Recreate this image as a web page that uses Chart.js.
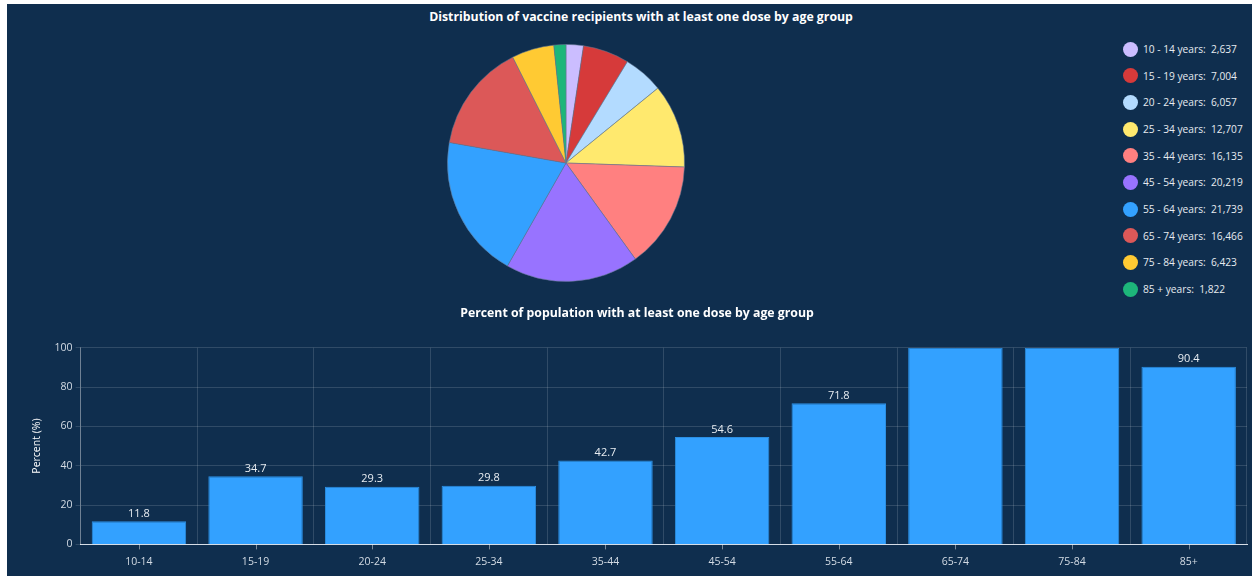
<!DOCTYPE html>
<html>
<head>
<meta charset="utf-8">
<script src="https://cdn.jsdelivr.net/npm/chart.js@4.4.1/dist/chart.umd.min.js"></script>
<style>
  html, body { margin: 0; padding: 0; background: #fff; width: 1252px; height: 576px; overflow: hidden; }
  #panel { position: absolute; left: 7px; top: 4px; width: 1268px; height: 585px; background: #0f2e4e; font-family: "Open Sans", sans-serif; }
  #pieTitle { position: absolute; left: 634px; top: 5px; transform: translateX(-50%); white-space: nowrap;
              color: #fff; font-weight: bold; font-size: 12.3px; line-height: 16px; }
  #pieCanvas { position: absolute; left: 429px; top: 29px; }
  #pieLegend { position: absolute; left: 1116px; top: 32px; }
  #pieLegend .item { height: 26.67px; line-height: 26.67px; color: #e6ebf0; font-size: 10.2px; white-space: nowrap; }
  #pieLegend .dot { display: inline-block; width: 15px; height: 15px; border-radius: 50%; vertical-align: middle; margin: -2px 5px 0 0; }
  #barCanvas { position: absolute; left: 0; top: 296px; }
</style>
</head>
<body>
<div id="panel">
  <div id="pieTitle">Distribution of vaccine recipients with at least one dose by age group</div>
  <canvas id="pieCanvas" width="260" height="260"></canvas>
  <div id="pieLegend"></div>
  <canvas id="barCanvas" width="1268" height="288"></canvas>
</div>
<script>
// pie: vaccine recipients by age group
const ageGroups = ["10 - 14", "15 - 19", "20 - 24", "25 - 34", "35 - 44", "45 - 54", "55 - 64", "65 - 74", "75 - 84", "85 +"];
const recipients = [2637, 7004, 6057, 12707, 16135, 20219, 21739, 16466, 6423, 1822];
const sliceColors = ["#cbbdff", "#d63a3a", "#b3dbff", "#ffe96e", "#ff8080", "#9873ff", "#33a1ff", "#dc5858", "#ffca33", "#1db67a"];

// bar: percent of population with at least one dose
const barCategories = ["10-14", "15-19", "20-24", "25-34", "35-44", "45-54", "55-64", "65-74", "75-84", "85+"];
const percentValues = [11.8, 34.7, 29.3, 29.8, 42.7, 54.6, 71.8, 100, 100, 90.4];

Chart.defaults.font.family = '"Open Sans", sans-serif';

const legendBox = document.getElementById("pieLegend");
ageGroups.forEach((group, i) => {
    const row = document.createElement("div");
    row.className = "item";
    row.innerHTML = '<span class="dot" style="background:' + sliceColors[i] + '"></span>' +
        group + " years:&nbsp; " + recipients[i].toLocaleString("en-US");
    legendBox.appendChild(row);
});

new Chart(document.getElementById("pieCanvas"), {
    type: "pie",
    data: {
        labels: ageGroups,
        datasets: [{
            data: recipients,
            backgroundColor: sliceColors,
            borderColor: "rgba(100, 120, 145, 0.55)",
            borderWidth: 1
        }]
    },
    options: {
        responsive: false,
        animation: false,
        layout: { padding: 11 },
        plugins: { legend: { display: false }, tooltip: { enabled: false } }
    }
});

const gridColor = "rgba(255, 255, 255, 0.14)";
const tickColor = "#d3dbe4";

// value labels above bars, hidden when they would sit above the plot
const barLabels = {
    id: "barLabels",
    afterDatasetsDraw(chart) {
        const { ctx, chartArea } = chart;
        const meta = chart.getDatasetMeta(0);
        ctx.save();
        ctx.font = '11px "Open Sans", sans-serif';
        ctx.fillStyle = "#e8edf2";
        ctx.textAlign = "center";
        ctx.textBaseline = "bottom";
        meta.data.forEach((bar, i) => {
            const y = bar.y - 2;
            if (y - 12 < chartArea.top) return;
            ctx.fillText(percentValues[i].toFixed(1), bar.x, y);
        });
        ctx.restore();
    }
};

// small tick marks under the x axis at category centres
const centreTicks = {
    id: "centreTicks",
    afterDraw(chart) {
        const { ctx } = chart;
        const xScale = chart.scales.x;
        ctx.save();
        ctx.strokeStyle = "rgba(255, 255, 255, 0.45)";
        ctx.lineWidth = 1;
        barCategories.forEach((c, i) => {
            const x = Math.round(xScale.getPixelForValue(i)) + 0.5;
            ctx.beginPath();
            ctx.moveTo(x, xScale.top);
            ctx.lineTo(x, xScale.top + 5);
            ctx.stroke();
        });
        ctx.restore();
    }
};

new Chart(document.getElementById("barCanvas"), {
    type: "bar",
    data: {
        labels: barCategories,
        datasets: [{
            data: percentValues,
            backgroundColor: "#33a1ff",
            borderColor: "#2b8fe3",
            borderWidth: 1,
            barPercentage: 0.81,
            categoryPercentage: 1
        }]
    },
    options: {
        responsive: false,
        animation: false,
        layout: { padding: { left: 20, right: 28, bottom: 9 } },
        plugins: {
            legend: { display: false },
            tooltip: { enabled: false },
            title: {
                display: true,
                text: "Percent of population with at least one dose by age group",
                color: "#ffffff",
                font: { size: 12.3, weight: "bold" },
                padding: { top: 6, bottom: 27 }
            }
        },
        scales: {
            x: {
                grid: { color: gridColor, offset: true, drawTicks: false },
                border: { color: "#d6dde6" },
                ticks: { color: tickColor, font: { size: 10.5 }, padding: 11 }
            },
            y: {
                min: 0,
                max: 100,
                ticks: { stepSize: 20, color: tickColor, font: { size: 10.5 }, padding: 3 },
                grid: { color: gridColor, tickLength: 5 },
                border: { color: "rgba(255, 255, 255, 0.3)" },
                title: {
                    display: true,
                    text: "Percent (%)",
                    color: "#ffffff",
                    font: { size: 10.5 },
                    padding: { top: 4, bottom: 8 }
                }
            }
        }
    },
    plugins: [barLabels, centreTicks]
});
</script>
</body>
</html>
